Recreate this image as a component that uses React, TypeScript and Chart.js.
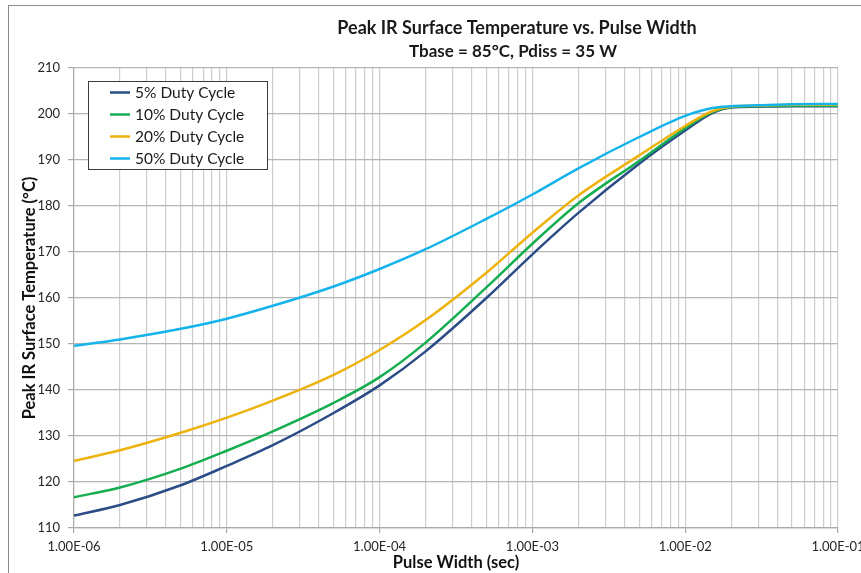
import React, { useEffect, useRef } from 'react';
import { Chart, registerables } from 'chart.js';

Chart.register(...registerables);

// ---- data ----
const pulseWidths = [1e-6, 2e-6, 5e-6, 1e-5, 2e-5, 5e-5, 1e-4, 2e-4, 5e-4, 1e-3, 2e-3, 5e-3, 1e-2, 1.5e-2, 2e-2, 3e-2, 5e-2, 1e-1];

const duty5 = [112.7, 115.0, 119.3, 123.5, 128.0, 135.0, 141.0, 148.4, 160.0, 169.5, 178.5, 189.2, 196.4, 200.2, 201.4, 201.6, 201.7, 201.7];
const duty10 = [116.7, 118.8, 122.9, 126.8, 131.0, 137.2, 142.8, 150.3, 162.3, 171.8, 180.6, 189.8, 196.9, 200.4, 201.5, 201.7, 201.8, 201.8];
const duty20 = [124.6, 126.9, 130.7, 134.0, 137.7, 143.3, 148.7, 155.2, 165.5, 174.2, 182.3, 191.0, 197.4, 200.6, 201.6, 201.8, 202.0, 202.0];
const duty50 = [149.6, 151.0, 153.3, 155.5, 158.3, 162.5, 166.3, 170.6, 177.2, 182.5, 188.2, 195.0, 199.6, 201.3, 201.7, 201.9, 202.1, 202.2];

const seriesLabels = ['5% Duty Cycle', '10% Duty Cycle', '20% Duty Cycle', '50% Duty Cycle'];
const seriesValues = [duty5, duty10, duty20, duty50];
const seriesColors = ['#2B4C86', '#14AD50', '#EDB20C', '#14B3EC'];

const decades = [1e-6, 1e-5, 1e-4, 1e-3, 1e-2, 1e-1];
const xTickLabels = ['1.00E-06', '1.00E-05', '1.00E-04', '1.00E-03', '1.00E-02', '1.00E-01'];
const minorMultipliers = [1, 2, 3, 4, 5, 6, 7, 8, 9];

const yMin = 110;
const yMax = 210;
const yStep = 10;

const titleLines = ['Peak IR Surface Temperature vs. Pulse Width', 'Tbase = 85\u00B0C, Pdiss = 35 W'];
const xAxisTitle = 'Pulse Width (sec)';
const yAxisTitle = 'Peak IR Surface Temperature (\u00B0C)';

const FONT = 'Lato, "Open Sans", "DejaVu Sans", sans-serif';

const titlePlugin = {
  id: 'customTitle',
  afterDraw(chart: any) {
    const ctx = chart.ctx;
    ctx.save();
    ctx.fillStyle = '#1a1a1a';
    ctx.textAlign = 'center';
    ctx.textBaseline = 'alphabetic';
    ctx.font = `bold 18px ${FONT}`;
    ctx.fillText(titleLines[0], 517, 33.5);
    ctx.font = `bold 17px ${FONT}`;
    ctx.fillText(titleLines[1], 513, 56.5);
    ctx.restore();
  },
};

const legendPlugin = {
  id: 'boxLegend',
  afterDraw(chart: any) {
    const ctx = chart.ctx;
    const a = chart.chartArea;
    const x0 = a.left + 14;
    const y0 = a.top + 13;
    const w = 179;
    const h = 88;
    ctx.save();
    ctx.fillStyle = '#ffffff';
    ctx.fillRect(x0, y0, w, h);
    ctx.strokeStyle = '#3a3a3a';
    ctx.lineWidth = 1;
    ctx.strokeRect(x0 + 0.5, y0 + 0.5, w, h);
    ctx.font = `15.5px ${FONT}`;
    ctx.textBaseline = 'middle';
    ctx.textAlign = 'left';
    chart.data.datasets.forEach((ds: any, i: number) => {
      const cy = y0 + 11.5 + i * 22;
      ctx.strokeStyle = ds.borderColor;
      ctx.lineWidth = 2.5;
      ctx.beginPath();
      ctx.moveTo(x0 + 22, cy);
      ctx.lineTo(x0 + 42, cy);
      ctx.stroke();
      ctx.fillStyle = '#1a1a1a';
      ctx.fillText(ds.label, x0 + 47, cy + 0.5);
    });
    ctx.restore();
  },
};

export default function App() {
  const canvasRef = useRef<HTMLCanvasElement | null>(null);

  useEffect(() => {
    if (!canvasRef.current) return;
    const tickList: { value: number; major: boolean }[] = [];
    decades.forEach((d, i) => {
      if (i === decades.length - 1) {
        tickList.push({ value: d, major: true });
      } else {
        minorMultipliers.forEach((m) => tickList.push({ value: m * d, major: m === 1 }));
      }
    });

    const datasets = seriesLabels.map((label, i) => ({
      label,
      data: pulseWidths.map((x, j) => ({ x, y: seriesValues[i][j] })),
      borderColor: seriesColors[i],
      backgroundColor: seriesColors[i],
      borderWidth: 2.5,
      pointRadius: 0,
      fill: false,
      cubicInterpolationMode: 'monotone' as const,
      order: seriesLabels.length - i,
    }));

    const chart = new Chart(canvasRef.current, {
      type: 'line',
      data: { datasets },
      plugins: [titlePlugin, legendPlugin],
      options: {
        animation: false,
        responsive: false,
        devicePixelRatio: 1,
        layout: { padding: { top: 68, right: 23, left: 0, bottom: 0 } },
        plugins: {
          legend: { display: false },
          title: { display: false },
          tooltip: { enabled: false },
        },
        scales: {
          x: {
            type: 'logarithmic',
            min: decades[0],
            max: decades[decades.length - 1],
            afterBuildTicks: (scale: any) => {
              scale.ticks = tickList.map((t) => ({ ...t }));
            },
            afterFit: (scale: any) => {
              scale.height = 45;
              scale.paddingLeft = 0;
              scale.paddingRight = 0;
            },
            ticks: {
              autoSkip: false,
              maxRotation: 0,
              minRotation: 0,
              padding: 6,
              color: '#262626',
              font: { family: FONT, size: 13 },
              callback: (value: any, index: number) => {
                const t = tickList[index];
                if (!t || !t.major) return '';
                const di = decades.findIndex((d) => Math.abs(d - t.value) < d * 1e-6);
                return di >= 0 ? xTickLabels[di] : '';
              },
            },
            grid: {
              color: '#cdcdcd',
              lineWidth: 1.2,
              drawTicks: true,
              tickLength: 5,
              tickColor: (c: any) => (c.tick && c.tick.major ? '#a8a8a8' : 'rgba(0,0,0,0)'),
            },
            border: { display: true, color: '#ababab', width: 1.2 },
            title: {
              display: true,
              text: xAxisTitle,
              color: '#111',
              font: { family: FONT, size: 16.5, weight: 'bold' },
              padding: { top: 0, bottom: 0 },
            },
          },
          y: {
            type: 'linear',
            min: yMin,
            max: yMax,
            afterFit: (scale: any) => {
              scale.width = 74;
            },
            ticks: {
              stepSize: yStep,
              padding: 8,
              color: '#262626',
              font: { family: FONT, size: 13 },
            },
            grid: {
              color: '#b5b5b5',
              lineWidth: 1.2,
              drawTicks: true,
              tickLength: 6,
              tickColor: '#a8a8a8',
            },
            border: { display: true, color: '#ababab', width: 1.2 },
            title: {
              display: true,
              text: yAxisTitle,
              color: '#111',
              font: { family: FONT, size: 16.5, weight: 'bold' },
              padding: { top: 20, bottom: 0 },
            },
          },
        },
      },
    });
    return () => chart.destroy();
  }, []);

  return (
    <div
      style={{
        position: 'fixed',
        left: 0,
        top: 0,
        width: 861,
        height: 573,
        overflow: 'hidden',
        background: '#ffffff',
      }}
    >
      <div
        style={{
          position: 'absolute',
          left: 8,
          top: 5,
          width: 900,
          height: 600,
          border: '1px solid #8a8a8a',
          boxSizing: 'border-box',
        }}
      />
      <canvas
        ref={canvasRef}
        width={861}
        height={573}
        style={{ position: 'absolute', left: 0, top: 0, display: 'block' }}
      />
    </div>
  );
}
